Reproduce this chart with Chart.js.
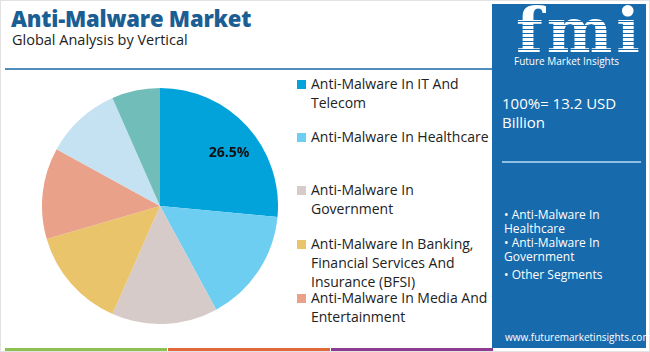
<!DOCTYPE html>
<html>
<head>
<meta charset="utf-8">
<script src="https://cdn.jsdelivr.net/npm/chart.js@4.4.0/dist/chart.umd.min.js"></script>
<style>
  html, body { margin: 0; padding: 0; }
  body { width: 650px; height: 352px; position: relative; overflow: hidden; background: #fff; font-family: "Open Sans", sans-serif; }
  .frame { position: absolute; left: 0; top: 0; width: 648px; height: 350px; border: 1px solid #e2e2e2; }
  h1 { position: absolute; left: 11px; top: 3px; margin: 0; font-size: 22px; font-weight: 800; color: #1b5e93; letter-spacing: -0.2px; }
  .sub { position: absolute; left: 12px; top: 30px; font-size: 14.5px; color: #222; }
  .rule { position: absolute; left: 5px; top: 68px; width: 488px; height: 2px; background: #4f8dbc; }
  .chart-box { position: absolute; left: 42px; top: 88px; width: 236px; height: 236px; }
  #legend { position: absolute; left: 297px; top: 74px; width: 195px; font-size: 14px; color: #222; line-height: 19px; }
  #legend .item { position: absolute; left: 0; padding-left: 14px; }
  #legend .sw { position: absolute; left: 0; top: 6px; width: 9px; height: 9px; }
  .panel { position: absolute; left: 492px; top: 4px; width: 154px; height: 344px; background: #176aac; color: #fff; }
  .logo { position: absolute; left: 24px; top: -2px; font-family: "DejaVu Serif", serif; font-weight: bold; font-size: 62px; line-height: 58px; letter-spacing: 4px; }
  .stripes { position: absolute; left: 20px; top: 14px; width: 128px; height: 38px;
    background: repeating-linear-gradient(to bottom, transparent 0, transparent 3px, #176aac 3px, #176aac 4px); }
  .brand { position: absolute; left: 22px; top: 50px; font-size: 10px; }
  .total { position: absolute; left: 10px; top: 90px; font-size: 15px; line-height: 19px; }
  .sep { position: absolute; left: 10px; top: 157px; width: 139px; height: 2px; background: #8fc0e6; }
  .bul { position: absolute; left: 12px; top: 204px; font-size: 12px; line-height: 14px; }
  .url { position: absolute; left: 13px; top: 326px; font-size: 10px; }
  .bar { position: absolute; top: 348px; height: 3px; }
</style>
</head>
<body>
<div class="frame"></div>
<h1>Anti-Malware Market</h1>
<div class="sub">Global Analysis by Vertical</div>
<div class="rule"></div>
<div class="chart-box"><canvas id="pie"></canvas></div>
<div id="legend"></div>
<div class="panel">
  <div class="logo">fmi</div>
  <div class="stripes"></div>
  <div class="brand">Future Market Insights</div>
  <div class="total">100%= 13.2 USD<br>Billion</div>
  <div class="sep"></div>
  <div class="bul">
    <div>&bull; Anti-Malware In<br>Healthcare</div>
    <div>&bull; Anti-Malware In<br>Government</div>
    <div style="margin-top:4px">&bull; Other Segments</div>
  </div>
  <div class="url">www.futuremarketinsights.com</div>
</div>
<div class="bar" style="left:5px;width:162px;background:#8cc152"></div>
<div class="bar" style="left:168px;width:162px;background:#e2683c"></div>
<div class="bar" style="left:331px;width:162px;background:#8e3c91"></div>

<script>
// segments (the two last slices are not in the legend)
const categories = [
  'Anti-Malware In IT And Telecom',
  'Anti-Malware In Healthcare',
  'Anti-Malware In Government',
  'Anti-Malware In Banking, Financial Services And Insurance (BFSI)',
  'Anti-Malware In Media And Entertainment',
  'Other Segments',
  'Others'
];
const shares = [26.5, 15.6, 14.5, 13.9, 12.5, 10.4, 6.6];
const colors = ['#02a2da', '#6ecef1', '#d6cbc8', '#e9c46a', '#e9a189', '#c5e2f2', '#70bdb9'];
const shownLabels = [0];      // slices that get a % label
const legendCount = 5;
// legend rows (top offset, wrapped text)
const legendTops = [0, 53, 106, 160, 214];
const legendLines = [
  ['Anti-Malware In IT And', 'Telecom'],
  ['Anti-Malware In Healthcare'],
  ['Anti-Malware In', 'Government'],
  ['Anti-Malware In Banking,', 'Financial Services And', 'Insurance (BFSI)'],
  ['Anti-Malware In Media And', 'Entertainment']
];

// legend html
const legendEl = document.getElementById('legend');
for (let i = 0; i < legendCount; i++) {
  const item = document.createElement('div');
  item.className = 'item';
  item.style.top = legendTops[i] + 'px';
  item.innerHTML = '<span class="sw" style="background:' + colors[i] + '"></span>' + legendLines[i].join('<br>');
  legendEl.appendChild(item);
}

const pctLabels = {
  id: 'pctLabels',
  afterDatasetsDraw(chart) {
    const ctx = chart.ctx;
    const meta = chart.getDatasetMeta(0);
    ctx.save();
    ctx.font = 'bold 14px "Open Sans", sans-serif';
    ctx.fillStyle = '#111';
    ctx.textAlign = 'center';
    ctx.textBaseline = 'middle';
    shownLabels.forEach(i => {
      const arc = meta.data[i];
      const p = arc.getProps(['x', 'y', 'startAngle', 'endAngle', 'outerRadius'], true);
      const mid = (p.startAngle + p.endAngle) / 2 + 0.08;
      const r = p.outerRadius * 0.74;
      ctx.fillText(shares[i].toFixed(1) + '%', p.x + Math.cos(mid) * r, p.y + Math.sin(mid) * r);
    });
    ctx.restore();
  }
};

new Chart(document.getElementById('pie').getContext('2d'), {
  type: 'pie',
  data: {
    labels: categories,
    datasets: [{
      data: shares,
      backgroundColor: colors,
      borderWidth: 0
    }]
  },
  options: {
    responsive: true,
    maintainAspectRatio: false,
    animation: false,
    layout: { padding: 0 },
    plugins: {
      legend: { display: false },
      tooltip: { enabled: false }
    }
  },
  plugins: [pctLabels]
});
</script>
</body>
</html>
